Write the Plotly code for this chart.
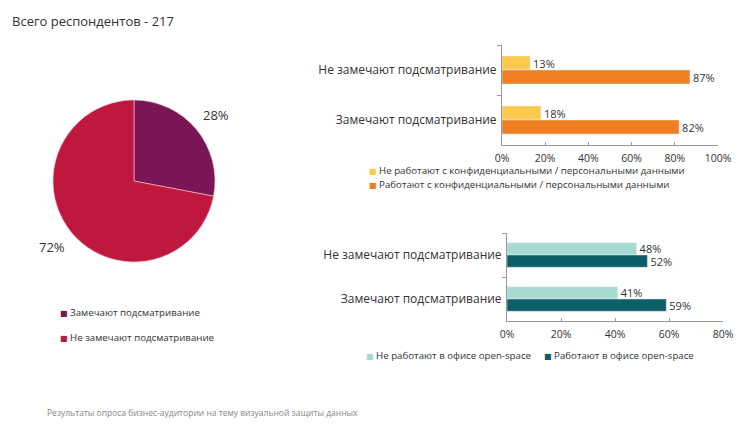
import math
import plotly.graph_objects as go

# ---- data ----
title_text = "Всего респондентов - 217"
footnote_text = "Результаты опроса бизнес-аудитории на тему визуальной защиты данных"

pie_labels = ["Замечают подсматривание", "Не замечают подсматривание"]
pie_values = [28, 72]
pie_colors = ["#7A1556", "#C0173F"]

bar_categories = ["Не замечают подсматривание", "Замечают подсматривание"]

conf_names = ["Не работают с конфиденциальными / персональными данными",
              "Работают с конфиденциальными / персональными данными"]
conf_values = [[13, 18], [87, 82]]
conf_colors = ["#FCC84E", "#F07F24"]

office_names = ["Не работают в офисе open-space", "Работают в офисе open-space"]
office_values = [[48, 41], [52, 59]]
office_colors = ["#A6DAD2", "#0E5E6A"]

x1_ticks = [0, 20, 40, 60, 80, 100]
x2_ticks = [0, 20, 40, 60, 80]

W, H = 755, 436
FONT = "Open Sans"
TXT = "#333333"


def px(x):
    return x / W


def py(y):
    return 1 - y / H


def legend_item(name, color, x, y, size=9.7):
    return dict(
        text=f'<span style="color:{color}; font-family:DejaVu Sans; font-size:8px">■</span> {name}',
        x=px(x), y=py(y), xref="paper", yref="paper", xanchor="left", yanchor="middle",
        showarrow=False, font=dict(size=size, color=TXT, family=FONT),
    )


# pie geometry (pixels)
PIE_CX, PIE_CY, PIE_R = 134, 181, 81

fig = go.Figure()

fig.add_trace(go.Pie(
    labels=pie_labels, values=pie_values, sort=False, direction="clockwise", rotation=0,
    marker=dict(colors=pie_colors, line=dict(color="#f3c6d0", width=0.6)),
    textinfo="none",
    domain=dict(x=[px(PIE_CX - PIE_R), px(PIE_CX + PIE_R)], y=[py(PIE_CY + PIE_R), py(PIE_CY - PIE_R)]),
    automargin=False, showlegend=False, hoverinfo="label+percent",
))

for i in range(2):
    fig.add_trace(go.Bar(
        y=bar_categories, x=conf_values[i], orientation="h", name=conf_names[i],
        marker=dict(color=conf_colors[i]), text=[f"{v}%" for v in conf_values[i]],
        textposition="outside", constraintext="none",
        textfont=dict(size=11, color=TXT, family=FONT),
        cliponaxis=False, xaxis="x", yaxis="y", showlegend=False,
    ))

for i in range(2):
    fig.add_trace(go.Bar(
        y=bar_categories, x=office_values[i], orientation="h", name=office_names[i],
        marker=dict(color=office_colors[i]), text=[f"{v}%" for v in office_values[i]],
        textposition="outside", constraintext="none",
        textfont=dict(size=11, color=TXT, family=FONT),
        cliponaxis=False, xaxis="x2", yaxis="y2", showlegend=False,
    ))

axis_common = dict(showgrid=False, zeroline=False, tickfont=dict(size=10.5, color=TXT, family=FONT),
                   ticks="inside", ticklen=3, tickcolor="#999999", showline=True,
                   linecolor="#999999", linewidth=1, automargin=False,
                   fixedrange=True, tickmode="array", ticklabelstandoff=3)
yaxis_common = dict(showgrid=False, zeroline=False, autorange="reversed", type="category",
                    tickfont=dict(size=12, color=TXT, family=FONT), showline=True, linecolor="#999999",
                    linewidth=1, ticks="outside", ticklen=4, tickcolor="#999999", tickson="boundaries",
                    ticklabelstandoff=2, automargin=False, fixedrange=True)

annotations = [
    dict(text=title_text, x=px(10), y=py(21), xref="paper", yref="paper", xanchor="left",
         yanchor="middle", showarrow=False, font=dict(size=13, color=TXT, family=FONT)),
    dict(text=footnote_text, x=px(45), y=py(412), xref="paper", yref="paper", xanchor="left",
         yanchor="middle", showarrow=False, font=dict(size=8.5, color="#888888", family=FONT)),
]

# pie value labels, placed outside each slice at its mid-angle (clockwise from 12 o'clock)
total = sum(pie_values)
cum = 0
for v in pie_values:
    mid = (cum + v / 2) / total * 2 * math.pi
    cum += v
    lx = PIE_CX + 1.32 * PIE_R * math.sin(mid)
    ly = PIE_CY - 1.28 * PIE_R * math.cos(mid)
    annotations.append(dict(text=f"{v}%", x=px(lx), y=py(ly), xref="paper", yref="paper",
                            xanchor="center", yanchor="middle", showarrow=False,
                            font=dict(size=13, color=TXT, family=FONT)))

# pie legend
for i, (n, c) in enumerate(zip(pie_labels, pie_colors)):
    annotations.append(legend_item(n, c, 58, 312 + 25 * i))
# confidential legend
for i, (n, c) in enumerate(zip(conf_names, conf_colors)):
    annotations.append(legend_item(n, c, 367, 171 + 13 * i))
# open-space legend
for i, (n, c, xx) in enumerate(zip(office_names, office_colors, [364, 542])):
    annotations.append(legend_item(n, c, xx, 355))

fig.update_layout(
    width=W, height=H, margin=dict(l=0, r=0, t=0, b=0, autoexpand=False),
    paper_bgcolor="white", plot_bgcolor="white",
    font=dict(family=FONT, color=TXT),
    barmode="group", bargap=0.44, bargroupgap=0,
    xaxis=dict(domain=[px(502), px(718)], range=[0, 100], tickvals=x1_ticks,
               ticktext=[f"{v}%" for v in x1_ticks], anchor="y", **axis_common),
    yaxis=dict(domain=[py(145), py(45)], anchor="x", **yaxis_common),
    xaxis2=dict(domain=[px(507), px(723)], range=[0, 80], tickvals=x2_ticks,
                ticktext=[f"{v}%" for v in x2_ticks], anchor="y2", **axis_common),
    yaxis2=dict(domain=[py(321), py(233)], anchor="x2", **yaxis_common),
    showlegend=False,
    annotations=annotations,
)

fig.write_html("out.html")
